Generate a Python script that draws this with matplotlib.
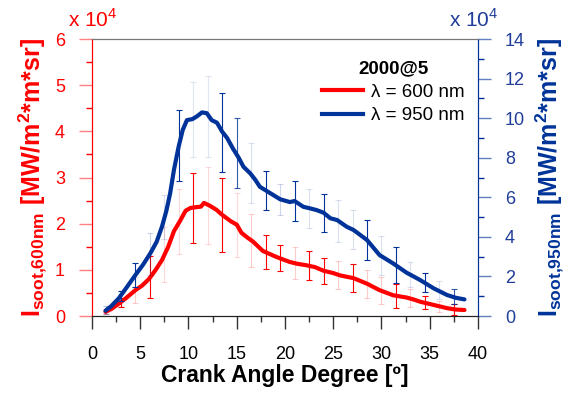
import numpy as np
import matplotlib
matplotlib.use("Agg")
import matplotlib.pyplot as plt
from matplotlib.lines import Line2D

plt.rcParams['font.family'] = ['Liberation Sans', 'DejaVu Sans']
plt.rcParams['mathtext.fontset'] = 'custom'
plt.rcParams['mathtext.rm'] = 'Liberation Sans'
plt.rcParams['mathtext.bf'] = 'Liberation Sans:bold'

# mean curves (values in units of 1e4)
cad_600 = [1.4, 2.0, 2.8, 3.6, 4.5, 5.2, 5.9, 6.6, 7.25, 7.9, 8.5, 9.1, 9.7, 10.2, 10.9,
           11.3, 11.6, 12.2, 12.9, 13.5, 14.4, 15.0, 15.5, 16.1, 16.7, 17.7, 19.1, 20.5,
           21.3, 22.2, 23.1, 24.0, 25.0, 25.7, 26.4, 27.1, 28.5, 29.8, 31.2, 32.6, 33.3,
           34.0, 35.4, 36.8, 37.7, 38.6]
i_600 = [0.09, 0.15, 0.27, 0.40, 0.56, 0.66, 0.80, 1.0, 1.21, 1.5, 1.84, 2.05, 2.28, 2.34,
         2.36, 2.37, 2.45, 2.39, 2.30, 2.19, 2.05, 1.98, 1.80, 1.70, 1.61, 1.41, 1.28, 1.17,
         1.13, 1.10, 1.06, 0.98, 0.93, 0.88, 0.85, 0.82, 0.70, 0.56, 0.45, 0.40, 0.36, 0.31,
         0.24, 0.17, 0.14, 0.13]

cad_950 = [1.4, 2.0, 2.77, 3.6, 4.5, 5.3, 6.05, 6.7, 7.25, 7.7, 8.1, 8.5, 8.98, 9.4, 9.84,
           10.4, 10.9, 11.4, 11.9, 12.4, 12.95, 13.5, 14.0, 14.6, 15.2, 15.7, 16.4, 16.9,
           17.4, 18.5, 19.5, 20.5, 21.0, 21.9, 22.6, 23.3, 24.0, 24.7, 25.4, 26.4, 27.1,
           28.5, 29.8, 31.2, 32.6, 34.0, 35.4, 36.8, 37.7, 38.6]
i_950 = [0.27, 0.5, 0.89, 1.45, 2.07, 2.6, 3.17, 3.75, 4.51, 5.3, 6.2, 7.4, 8.56, 9.4, 9.9,
         9.95, 10.1, 10.29, 10.25, 9.9, 9.77, 9.31, 9.0, 8.47, 8.0, 7.54, 7.21, 6.9, 6.53,
         6.2, 5.9, 5.76, 5.81, 5.52, 5.44, 5.35, 5.22, 4.94, 4.85, 4.51, 4.35, 3.84, 3.08,
         2.66, 2.19, 1.82, 1.40, 1.06, 0.92, 0.84]

# error bars (centres and half widths)
cad_err = [1.5, 3.0, 4.5, 6.0, 7.5, 9.0, 10.5, 12.0, 13.5, 15.0, 16.5, 18.0, 19.5, 21.0,
           22.5, 24.0, 25.5, 27.0, 28.5, 30.0, 31.5, 33.0, 34.5, 36.0, 37.5]
mean_600 = [0.09, 0.3, 0.56, 0.84, 1.33, 2.05, 2.34, 2.40, 2.19, 1.97, 1.64, 1.38, 1.25,
            1.15, 1.09, 0.98, 0.89, 0.83, 0.69, 0.55, 0.44, 0.39, 0.29, 0.21, 0.15]
err_600 = [0.05, 0.1, 0.28, 0.45, 0.6, 0.7, 0.75, 0.83, 0.8, 0.7, 0.57, 0.37, 0.28, 0.35,
           0.32, 0.28, 0.31, 0.3, 0.31, 0.3, 0.26, 0.2, 0.14, 0.12, 0.12]
alpha_600 = [0.3, 1, 0.2, 1, 0.15, 0.15, 1, 0.15, 1, 0.15, 0.2, 1, 1, 0.2, 1, 1, 0.2, 1,
             0.2, 0.2, 1, 0.2, 1, 0.2, 1]
mean_950 = [0.3, 1.0, 2.07, 3.13, 5.0, 8.6, 9.95, 10.1, 9.28, 8.25, 7.22, 6.35, 5.9, 5.81,
            5.45, 5.22, 4.8, 4.37, 3.84, 3.05, 2.58, 2.1, 1.7, 1.3, 0.98]
err_950 = [0.2, 0.25, 0.6, 1.05, 1.1, 1.8, 1.9, 2.05, 2.0, 1.77, 1.5, 1.0, 0.78, 1.03, 0.98,
           0.97, 1.05, 0.97, 1.0, 0.98, 0.92, 0.65, 0.47, 0.45, 0.36]
alpha_950 = [0.3, 1, 1, 0.2, 0.15, 1, 0.12, 0.12, 1, 0.8, 0.15, 1, 0.2, 1, 0.15, 1, 0.15,
             0.15, 1, 0.15, 1, 0.15, 1, 0.15, 0.8]

RED = '#ff0000'
BLUE = '#003399'
BLUE_TXT = '#1f3d99'

fig = plt.figure(figsize=(5.77, 3.96), dpi=100)
ax = fig.add_axes([0.1594, 0.202, 0.669, 0.6995])
ax2 = ax.twinx()

for x, m, e, a in zip(cad_err, mean_600, err_600, alpha_600):
    ax.errorbar([x], [m], yerr=[e], fmt='none', ecolor=RED, elinewidth=0.8,
                capsize=2, capthick=0.8, alpha=a, zorder=1)
for x, m, e, a in zip(cad_err, mean_950, err_950, alpha_950):
    ax2.errorbar([x], [m], yerr=[e], fmt='none', ecolor=BLUE, elinewidth=0.8,
                 capsize=2, capthick=0.8, alpha=a, zorder=1)

ax.plot(cad_600, i_600, color=RED, lw=3, solid_capstyle='round', zorder=3)
ax2.plot(cad_950, i_950, color=BLUE, lw=3, solid_capstyle='round', zorder=3)

ax.set_xlim(0, 40)
ax.set_ylim(0, 6)
ax2.set_ylim(0, 14)
ax.set_xticks(np.arange(0, 41, 5))
ax.set_xticks(np.arange(2.5, 40, 5), minor=True)
ax.set_yticks(np.arange(0, 7, 1))
ax.set_yticks(np.arange(0.5, 6, 1), minor=True)
ax2.set_yticks(np.arange(0, 15, 2))
ax2.set_yticks(np.arange(1, 14, 2), minor=True)

ax.tick_params(axis='x', which='major', direction='out', length=9.5, width=1,
               colors='#333333', labelcolor='black', labelsize=13, pad=12)
ax.tick_params(axis='x', which='minor', direction='out', length=4, width=1, colors='#333333')
ax.tick_params(axis='y', which='major', direction='out', length=9.5, width=1,
               colors='#ff8080', labelcolor=RED, labelsize=13, pad=10)
ax.tick_params(axis='y', which='minor', direction='out', length=4, width=1, colors=RED)
ax2.tick_params(axis='y', which='major', direction='out', length=9.5, width=1,
                colors='#6080c0', labelcolor=BLUE_TXT, labelsize=13, pad=10)
ax2.tick_params(axis='y', which='minor', direction='out', length=4, width=1, colors=BLUE)

for a in (ax, ax2):
    a.spines['left'].set_color(RED)
    a.spines['right'].set_color(BLUE)
    a.spines['top'].set_color('#777777')
    a.spines['bottom'].set_color('#222222')

ax.set_xlabel('Crank Angle Degree [º]', fontsize=16.5, fontweight='bold', labelpad=1)
ax.set_ylabel(r'$\mathbf{I_{soot{,}600nm}}$ [MW/m$^\mathbf{2}$*m*sr]', color=RED,
              fontsize=18, fontweight='bold', labelpad=4)
ax2.set_ylabel(r'$\mathbf{I_{soot{,}950nm}}$ [MW/m$^\mathbf{2}$*m*sr]', color=BLUE,
               fontsize=18, fontweight='bold', labelpad=6)

fig.text(0.118, 0.95, r'x 10$^4$', color=RED, fontsize=15, va='center')
fig.text(0.778, 0.95, r'x 10$^4$', color=BLUE_TXT, fontsize=15, va='center')

handles = [Line2D([], [], color=RED, lw=3), Line2D([], [], color=BLUE, lw=3)]
leg = ax2.legend(handles, ['λ = 600 nm', 'λ = 950 nm'], title='2000@5', frameon=False,
                 loc='upper right', bbox_to_anchor=(1.01, 0.985), fontsize=13.5,
                 title_fontproperties={'weight': 'bold', 'size': 13.5},
                 handlelength=2.2, handletextpad=0.45, labelspacing=0.35)

fig.savefig('out.png', dpi=100)
